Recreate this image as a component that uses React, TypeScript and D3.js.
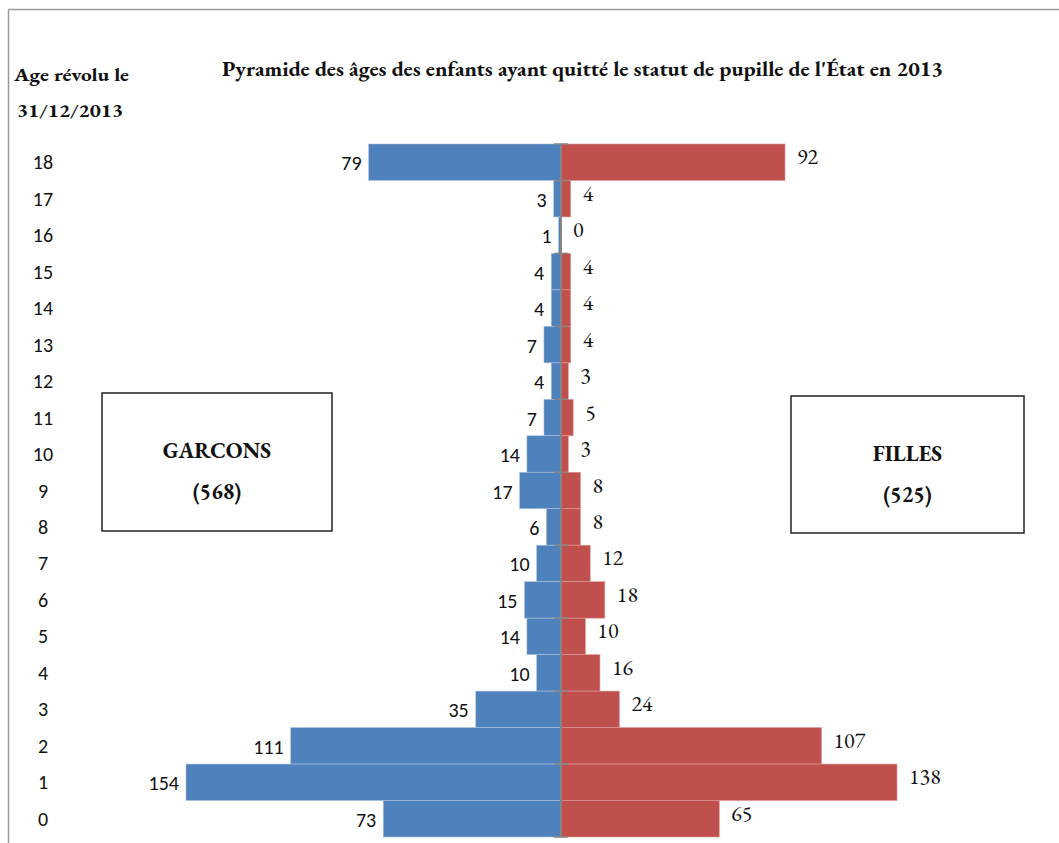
import React from "react";
import * as d3 from "d3";

const ages = [18, 17, 16, 15, 14, 13, 12, 11, 10, 9, 8, 7, 6, 5, 4, 3, 2, 1, 0];
const garcons = [79, 3, 1, 4, 4, 7, 4, 7, 14, 17, 6, 10, 15, 14, 10, 35, 111, 154, 73];
const filles = [92, 4, 0, 4, 4, 4, 3, 5, 3, 8, 8, 12, 18, 10, 16, 24, 107, 138, 65];
const title = "Pyramide des âges des enfants ayant quitté le statut de pupille de l'État en 2013";
const axisTitle = ["Age révolu le", "31/12/2013"];
const boxes = [
  { label: "GARCONS", total: "(568)", x0: 102, x1: 332, y0: 393, y1: 531 },
  { label: "FILLES", total: "(525)", x0: 791, x1: 1024, y0: 396, y1: 533 },
];

const BLUE = "#4F81BD";
const RED = "#C0504D";
const AXIS = "#868686";
const SERIF = "'EB Garamond', Garamond, 'Liberation Serif', 'DejaVu Serif', serif";
const SANS = "Carlito, Calibri, 'Liberation Sans', Arial, sans-serif";

export default function App() {
  const W = 1059;
  const H = 843;
  const y = d3.scaleBand<number>().domain(ages).range([144, 837]).padding(0);
  const x = d3.scaleLinear().domain([-200, 200]).range([74, 1048]);
  const bw = y.bandwidth();
  const cx = x(0);
  const tickAges = ages.filter((a) => a % 2 === 0);

  return (
    <svg width={W} height={H} style={{ position: "absolute", left: 0, top: 0, background: "#fff" }}>
      <rect x={0} y={0} width={W} height={H} fill="#fff" />
      {/* outer frame */}
      <line x1={8.5} y1={9.5} x2={W} y2={9.5} stroke="#999" strokeWidth={1.5} />
      <line x1={8.5} y1={9.5} x2={8.5} y2={H} stroke="#999" strokeWidth={1.5} />

      {/* title */}
      <text
        x={582.5}
        y={76}
        textAnchor="middle"
        fontFamily={SERIF}
        fontWeight="bold"
        fontSize={21}
        textLength={721}
        lengthAdjust="spacingAndGlyphs"
        fill="#111"
      >
        {title}
      </text>
      <text x={14} y={81} fontFamily={SERIF} fontWeight="bold" fontSize={19} textLength={115} lengthAdjust="spacingAndGlyphs" fill="#111">
        {axisTitle[0]}
      </text>
      <text x={17} y={117} fontFamily={SERIF} fontWeight="bold" fontSize={19} textLength={106} lengthAdjust="spacingAndGlyphs" fill="#111">
        {axisTitle[1]}
      </text>

      {/* bars */}
      {ages.map((a, i) => (
        <g key={"b" + a}>
          {garcons[i] > 0 && (
            <rect x={x(-garcons[i])} y={y(a)!} width={cx - x(-garcons[i])} height={bw} fill={BLUE} stroke="#a9c0de" strokeWidth={0.6} />
          )}
          {filles[i] > 0 && (
            <rect x={cx} y={y(a)!} width={x(filles[i]) - cx} height={bw} fill={RED} stroke="#dc9896" strokeWidth={0.6} />
          )}
        </g>
      ))}

      {/* center axis */}
      <line x1={cx} y1={y.range()[0]} x2={cx} y2={y.range()[1]} stroke={AXIS} strokeWidth={2} />
      <line x1={cx - 7} y1={y.range()[0]} x2={cx + 7} y2={y.range()[0]} stroke={AXIS} strokeWidth={1.5} />
      {tickAges.map((a) => (
        <line key={"t" + a} x1={cx - 7} y1={y(a)! + bw} x2={cx + 7} y2={y(a)! + bw} stroke={AXIS} strokeWidth={1.5} />
      ))}

      {/* category labels */}
      {ages.map((a) => (
        <text key={"c" + a} x={43} y={y(a)! + bw / 2 + 7} textAnchor="middle" fontFamily={SANS} fontSize={20} fill="#111">
          {a}
        </text>
      ))}

      {/* data labels */}
      {ages.map((a, i) => (
        <g key={"l" + a}>
          <text x={x(-garcons[i]) - 7} y={y(a)! + bw / 2 + 8} textAnchor="end" fontFamily={SANS} fontSize={20} fill="#111">
            {garcons[i]}
          </text>
          <text x={x(filles[i]) + 12} y={y(a)! + bw / 2 + 2} textAnchor="start" fontFamily={SERIF} fontSize={22} fill="#111">
            {filles[i]}
          </text>
        </g>
      ))}

      {/* boxes */}
      {boxes.map((b) => (
        <g key={b.label}>
          <rect x={b.x0} y={b.y0} width={b.x1 - b.x0} height={b.y1 - b.y0} fill="#fff" stroke="#222" strokeWidth={1.5} />
          <text x={(b.x0 + b.x1) / 2} y={b.y0 + 65} textAnchor="middle" fontFamily={SERIF} fontWeight="bold" fontSize={22} fill="#111">
            {b.label}
          </text>
          <text x={(b.x0 + b.x1) / 2} y={b.y0 + 106} textAnchor="middle" fontFamily={SERIF} fontWeight="bold" fontSize={22} fill="#111">
            {b.total}
          </text>
        </g>
      ))}
    </svg>
  );
}
